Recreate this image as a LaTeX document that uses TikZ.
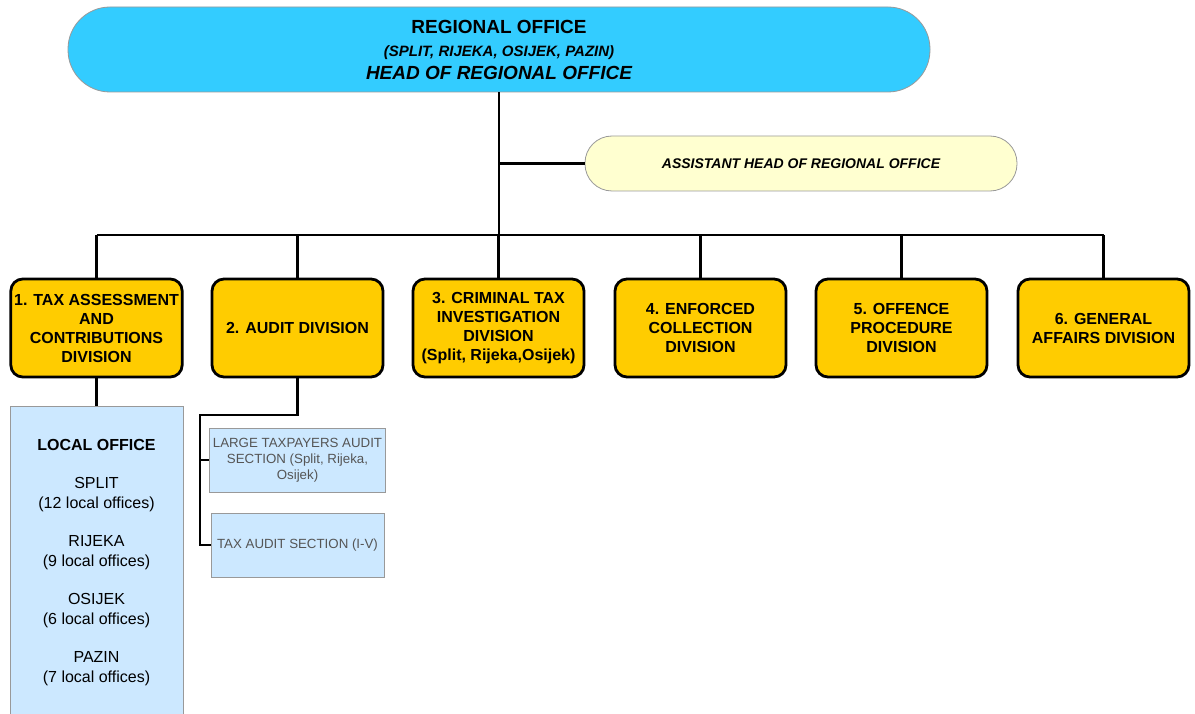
\documentclass[tikz,border=0pt]{standalone}
\usepackage{fontspec}
\setmainfont{Liberation Sans}
\definecolor{headblue}{RGB}{51,204,255}
\definecolor{assistyellow}{RGB}{255,255,208}
\definecolor{divyellow}{RGB}{255,204,0}
\definecolor{sectionblue}{RGB}{204,232,255}
\definecolor{sectiontext}{RGB}{85,85,85}
\begin{document}
\begin{tikzpicture}[x = 1pt, y = -1pt,
        line/.style = {line width = 2.8pt},
        pill/.style = {draw = gray!80, line width = 0.8pt, align = center},
        division/.style = {draw, line width = 2.8pt, fill = divyellow, rounded corners = 12pt,
            minimum width = 171pt, minimum height = 98pt, align = center,
            font = \bfseries\fontsize{16}{19}\selectfont},
        section/.style = {draw = gray!80, line width = 0.8pt, fill = sectionblue, align = center,
            minimum width = 173pt, minimum height = 64pt, text = sectiontext,
            font = \fontsize{13.3}{16}\selectfont}]
    \useasboundingbox (0,0) rectangle (1195,714);
    \fill[white] (0,0) rectangle (1195,714);
    \clip (0,0) rectangle (1195,714);

    % head and assistant
    \node[pill, fill = headblue, minimum width = 862pt, minimum height = 85pt, rounded corners = 42pt,
        font = \bfseries\fontsize{19}{23}\selectfont]
        (regional) at (499,49.5) {REGIONAL OFFICE\\
        {\itshape\fontsize{15}{23}\selectfont (SPLIT, RIJEKA, OSIJEK, PAZIN)}\\
        \itshape HEAD OF REGIONAL OFFICE};
    \node[pill, fill = assistyellow, minimum width = 432pt, minimum height = 55pt, rounded corners = 27pt,
        font = \bfseries\itshape\fontsize{14}{17}\selectfont]
        (assistant) at (801,163.5) {ASSISTANT HEAD OF REGIONAL OFFICE};

    % divisions
    \foreach \i/\x/\txt in {1/96.5/{1. TAX ASSESSMENT\\AND\\CONTRIBUTIONS\\DIVISION},
            2/297.5/{2. AUDIT DIVISION},
            3/498.5/{3. CRIMINAL TAX\\INVESTIGATION\\DIVISION\\(Split, Rijeka,Osijek)},
            4/700.5/{4. ENFORCED\\COLLECTION\\DIVISION},
            5/901.5/{5. OFFENCE\\PROCEDURE\\DIVISION},
            6/1103.5/{6. GENERAL\\AFFAIRS DIVISION}}
        \node[division] (div\i) at (\x,328) {\txt};

    % lower boxes
    \node[section, text = black, minimum height = 314pt, font = \fontsize{16}{20}\selectfont]
        (local) at (96.5,563) {\textbf{LOCAL OFFICE}\\[18pt]
        SPLIT\\(12 local offices)\\[18pt]
        RIJEKA\\(9 local offices)\\[18pt]
        OSIJEK\\(6 local offices)\\[18pt]
        PAZIN\\(7 local offices)};
    \node[section] (largetax) at (297.5,460) {LARGE TAXPAYERS AUDIT\\SECTION (Split, Rijeka,\\Osijek)};
    \node[section] (taxaudit) at (297.5,545) {TAX AUDIT SECTION (I-V)};

    % connectors
    \coordinate (bus) at (499,235);
    \coordinate (auditbend) at (200,415);
    \draw[line] (regional.south) -- (bus);
    \draw[line] (regional.south |- assistant.west) -- (assistant.west);
    \draw[line] (div1.north |- bus) -- (div6.north |- bus);
    \foreach \i in {1,...,6}
        \draw[line] (div\i.north) -- (div\i.north |- bus);
    \draw[line] (div1.south) -- (local.north);
    \draw[line] (div2.south) |- (auditbend) -- (auditbend |- taxaudit.west) -- (taxaudit.west);
    \draw[line] (auditbend |- largetax.west) -- (largetax.west);
\end{tikzpicture}
\end{document}
